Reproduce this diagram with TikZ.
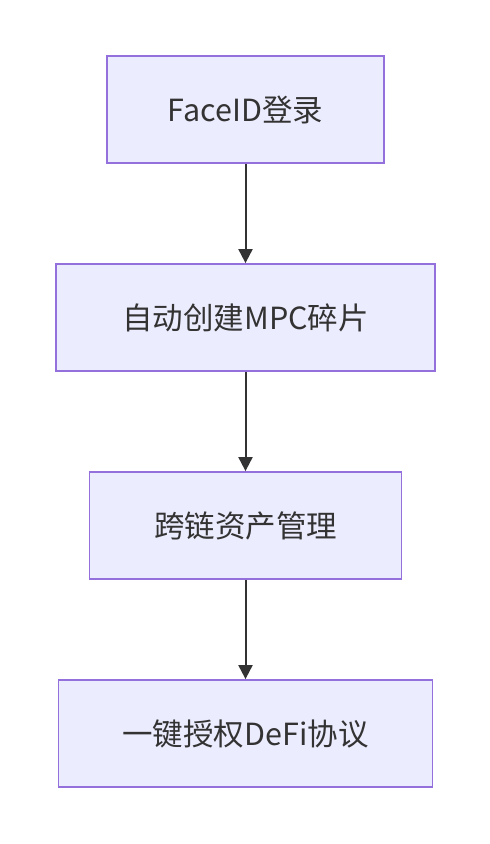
\documentclass[tikz,border=0pt]{standalone}
\usepackage{fontspec}
\setmainfont{Noto Sans CJK SC}
\usetikzlibrary{shapes.geometric, arrows, arrows.meta}
\definecolor{boxfill}{HTML}{ECECFF}
\definecolor{boxline}{HTML}{9370DB}
\definecolor{ink}{HTML}{333333}
\tikzstyle{process} = [rectangle, minimum height=107pt, text centered,
draw=boxline, fill=boxfill, line width=1.8pt, text=ink, font=\fontsize{30.5}{36}\selectfont]
\tikzstyle{arrow} =
[line width=2pt, draw=ink, -{Triangle[width=14pt,length=14pt]}]

\begin{document}
\begin{tikzpicture}[node distance=208pt]
\useasboundingbox (0pt,0pt) rectangle (490pt,-844pt);

\node(login)[process, minimum width=277pt] at (245.5pt,-109.5pt){FaceID登录};
\node(mpc)[process, below of=login, minimum width=379pt]{自动创建MPC碎片};
\node(assets)[process, below of=mpc, minimum width=312pt]{跨链资产管理};
\node(defi)[process, below of=assets, minimum width=374pt]{一键授权DeFi协议};

\draw[arrow](login) -- (mpc);
\draw[arrow](mpc) -- (assets);
\draw[arrow](assets) -- (defi);

\end{tikzpicture}
\end{document}
